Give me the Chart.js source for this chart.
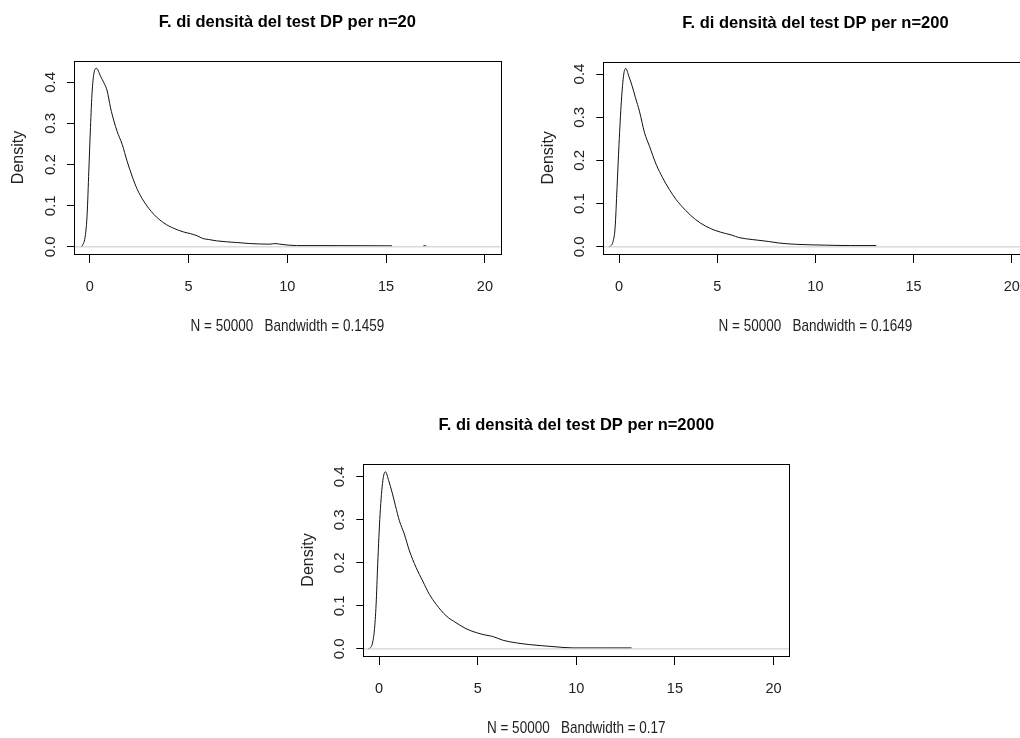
<!DOCTYPE html>
<html>
<head>
<meta charset="utf-8">
<script src="https://cdn.jsdelivr.net/npm/chart.js@4.4.1/dist/chart.umd.min.js"></script>
<style>
  html, body { margin: 0; padding: 0; background: #fff; overflow: hidden; width: 1020px; height: 738px; }
  canvas { position: absolute; }
</style>
</head>
<body>
<canvas id="c1" width="510" height="350" style="left:0;top:0;width:510px;height:350px"></canvas>
<canvas id="c2" width="525" height="350" style="left:510px;top:0;width:525px;height:350px"></canvas>
<canvas id="c3" width="510" height="338" style="left:290px;top:400px;width:510px;height:338px"></canvas>
<script>
// tick labels
const xTicks = [0, 5, 10, 15, 20];
const yTicks = [0, 0.1, 0.2, 0.3, 0.4];

// n = 20 (null = part hidden under the zero line)
const n20X = [-0.45, -0.39, -0.22, -0.135, -0.05, 0.034, 0.12, 0.236, 0.34, 0.54, 0.71, 0.88, 1.05, 1.22, 1.38, 1.64, 1.89, 2.14, 2.40, 2.73, 3.24, 3.75, 4.25, 4.76, 5.1, 5.43, 5.74, 6.0, 6.41, 7.43, 8.1, 9.11, 9.37, 9.62, 10.46, 11.8, 15.2, 15.3, 16.0, 16.88, 16.96, 17.04];
const n20Y = [0, 0.002, 0.030, 0.079, 0.184, 0.29, 0.379, 0.428, 0.434, 0.415, 0.399, 0.379, 0.338, 0.306, 0.281, 0.249, 0.208, 0.172, 0.140, 0.111, 0.079, 0.058, 0.045, 0.036, 0.032, 0.027, 0.020, 0.018, 0.0146, 0.0105, 0.008, 0.0065, 0.008, 0.0065, 0.003, 0.003, 0.0025, 0.0025, null, 0.002, 0.003, 0.002];

// n = 200
const n200X = [-0.5, -0.44, -0.30, -0.2, -0.1, 0, 0.12, 0.24, 0.34, 0.5, 0.67, 0.84, 1.04, 1.3, 1.55, 1.89, 2.22, 2.56, 2.9, 3.4, 3.9, 4.41, 4.9, 5.42, 5.76, 6.1, 6.78, 7.63, 8.13, 8.97, 10.5, 11.8, 13.1];
const n200Y = [0, 0.0015, 0.013, 0.044, 0.137, 0.237, 0.337, 0.399, 0.413, 0.395, 0.372, 0.345, 0.314, 0.264, 0.233, 0.191, 0.160, 0.133, 0.110, 0.084, 0.063, 0.048, 0.038, 0.031, 0.027, 0.0216, 0.017, 0.0124, 0.009, 0.006, 0.004, 0.003, 0.003];

// n = 2000
const n2000X = [-0.55, -0.49, -0.35, -0.24, -0.15, -0.07, 0.05, 0.19, 0.32, 0.49, 0.66, 0.83, 1.03, 1.28, 1.54, 1.88, 2.21, 2.55, 2.89, 3.4, 3.9, 4.41, 4.92, 5.42, 5.76, 6.29, 6.96, 7.64, 8.82, 9.83, 11.5, 12.8];
const n2000Y = [0, 0.001, 0.011, 0.042, 0.104, 0.197, 0.313, 0.391, 0.412, 0.391, 0.364, 0.333, 0.298, 0.267, 0.228, 0.189, 0.158, 0.127, 0.104, 0.077, 0.061, 0.047, 0.038, 0.032, 0.029, 0.020, 0.014, 0.010, 0.0054, 0.0023, 0.0023, 0.0023];

const FONT = '"Liberation Sans", Arial, sans-serif';
Chart.defaults.font.family = FONT;
Chart.defaults.color = '#222';

// R style box + texts
const rFrame = {
  id: 'rFrame',
  afterDraw(chart, args, opts) {
    const ctx = chart.ctx;
    const a = chart.chartArea;
    ctx.save();
    ctx.strokeStyle = '#000';
    ctx.lineWidth = 1;
    ctx.strokeRect(Math.round(a.left) + 0.5, Math.round(a.top) + 0.5,
      Math.round(a.right - a.left), Math.round(a.bottom - a.top));
    ctx.fillStyle = '#000';
    ctx.textAlign = 'center';
    const cx = (a.left + a.right) / 2;
    ctx.font = 'bold 16.5px ' + FONT;
    ctx.fillText(opts.title, cx, a.top - 34);

    ctx.save();
    ctx.fillStyle = '#222';
    ctx.translate(cx, a.bottom + 77);
    ctx.scale(1, 1.2);
    ctx.font = '13.5px ' + FONT;
    ctx.fillText(opts.sub, 0, 0);
    ctx.restore();

    ctx.save();
    ctx.fillStyle = '#222';
    ctx.translate(a.left - 55, (a.top + a.bottom) / 2);
    ctx.rotate(-Math.PI / 2);
    ctx.textBaseline = 'middle';
    ctx.font = '16px ' + FONT;
    ctx.fillText('Density', 0, 0);
    ctx.restore();
    ctx.restore();
  }
};

function makeChart(id, xs, ys, ymin, ymax, title, sub, lay) {
  const pts = xs.map((x, i) => ({ x: x, y: ys[i] }));
  return new Chart(document.getElementById(id), {
    type: 'line',
    data: {
      datasets: [
        {
          data: [{ x: -0.8, y: 0 }, { x: 20.8, y: 0 }],
          borderColor: '#c8c8c8',
          borderWidth: 1,
          pointRadius: 0,
          order: 0
        },
        {
          data: pts,
          borderColor: '#111',
          borderWidth: 1,
          pointRadius: 0,
          spanGaps: false,
          cubicInterpolationMode: 'monotone',
          order: 1
        }
      ]
    },
    options: {
      responsive: false,
      animation: false,
      events: [],
      layout: { padding: { top: lay.top, right: lay.right, left: 0, bottom: 0 } },
      plugins: {
        legend: { display: false },
        tooltip: { enabled: false },
        rFrame: { title: title, sub: sub }
      },
      scales: {
        x: {
          type: 'linear',
          min: -0.8,
          max: 20.8,
          afterBuildTicks: s => { s.ticks = xTicks.map(v => ({ value: v })); },
          afterFit: s => { s.height = lay.xh; },
          border: { display: false },
          grid: { drawOnChartArea: false, drawTicks: true, tickLength: 9, color: '#000' },
          ticks: { padding: 15, font: { size: 14.5 }, maxRotation: 0, callback: v => String(v) }
        },
        y: {
          type: 'linear',
          min: ymin,
          max: ymax,
          afterBuildTicks: s => { s.ticks = yTicks.map(v => ({ value: v })); },
          afterFit: s => { s.width = lay.left; },
          border: { display: false },
          grid: { drawOnChartArea: false, drawTicks: true, tickLength: 7, color: '#000' },
          ticks: { padding: 6, font: { size: 15 }, minRotation: 90, maxRotation: 90, crossAlign: 'center', callback: v => v.toFixed(1) }
        }
      }
    },
    plugins: [rFrame]
  });
}

makeChart('c1', n20X, n20Y, -0.0174, 0.4518,
  'F. di densità del test DP per n=20', 'N = 50000   Bandwidth = 0.1459',
  { top: 61, right: 9.3, left: 74, xh: 96 });
makeChart('c2', n200X, n200Y, -0.0165, 0.4285,
  'F. di densità del test DP per n=200', 'N = 50000   Bandwidth = 0.1649',
  { top: 61.7, right: 4, left: 93.3, xh: 96 });
makeChart('c3', n2000X, n2000Y, -0.0165, 0.43,
  'F. di densità del test DP per n=2000', 'N = 50000   Bandwidth = 0.17',
  { top: 64, right: 10.7, left: 73.3, xh: 82 });
</script>
</body>
</html>
